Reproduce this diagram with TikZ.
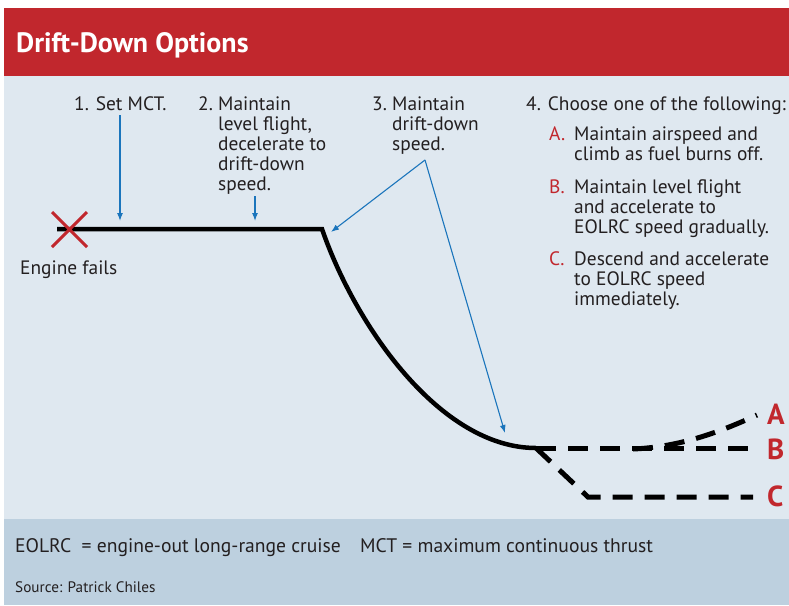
\documentclass[tikz,border=0pt]{standalone}
\usepackage{fontspec}
\setmainfont{PT Sans}
\usetikzlibrary{arrows.meta}
\definecolor{hdred}{HTML}{C1272D}
\definecolor{panel}{HTML}{DFE8F0}
\definecolor{foot}{HTML}{BDD0DF}
\definecolor{arrblue}{HTML}{1B75BC}
\definecolor{txtc}{HTML}{231F20}
\definecolor{optred}{HTML}{C1272D}
\newcommand\mylines[1]{\begin{tabular}[t]{@{}l@{}}#1\end{tabular}}
\begin{document}
\begin{tikzpicture}[x=1pt,y=-1pt,
  lbl/.style={inner sep=0pt, anchor=base west, font=\fontsize{19.4}{20}\selectfont, text=txtc},
  optlbl/.style={lbl, text=optred},
  bigletter/.style={inner sep=0pt, anchor=base west, font=\fontsize{29}{29}\bfseries\selectfont, text=optred},
  pointer/.style={draw=arrblue, line width=1.1pt, -{Latex[length=8pt,width=6pt]}},
  flight/.style={line width=4.5pt, line join=miter},
  option/.style={line width=5pt, dash pattern=on 20pt off 12pt}]
\useasboundingbox (0,0) rectangle (789,605);
\fill[white] (0,0) rectangle (789,605);
\fill[hdred] (4,8) rectangle (789,76);
\fill[panel] (4,76) rectangle (789,519);
\fill[foot] (4,519) rectangle (789,605);

% title
\node[inner sep=0pt, anchor=base west, font=\fontsize{28}{28}\bfseries\selectfont, text=white] (title) at (16,52) {Drift-Down Options};

% step texts
\node[lbl] (s1) at (74,110) {1. Set MCT.};
\node[lbl] (s2n) at (198,110) {2.};
\node[lbl] (s2) at (218,110) {\mylines{Maintain\\level flight,\\decelerate to\\drift-down\\speed.}};
\node[lbl] (s3n) at (372,110) {3.};
\node[lbl] (s3) at (392,110) {\mylines{Maintain\\drift-down\\speed.}};
\node[lbl] (s4) at (526,110) {4. Choose one of the following:};
\node[optlbl] (oAn) at (549,140) {A.};
\node[lbl] (oA) at (574,140) {\mylines{Maintain airspeed and\\climb as fuel burns off.}};
\node[optlbl] (oBn) at (549,193) {B.};
\node[lbl] (oB) at (574,193) {\mylines{Maintain level flight\\and accelerate to\\EOLRC speed gradually.}};
\node[optlbl] (oCn) at (549,265) {C.};
\node[lbl] (oC) at (574,265) {\mylines{Descend and accelerate\\to EOLRC speed\\immediately.}};
\node[lbl] (fail) at (20,274) {Engine fails};

% flight path
\coordinate (start) at (57,229);
\coordinate (corner) at (322,229);
\coordinate (bottom) at (536,448);
\draw[flight] (start) -- (corner) .. controls (355,325) and (440,448) .. (bottom);

% options
\coordinate (Bend) at (749,448);
\coordinate (Astart) at (633,449);
\coordinate (Aend) at (757,415);
\coordinate (Ckink) at (588,497);
\coordinate (Cend) at (753,497);
\draw[option] (bottom) -- (Bend);
\draw[option] (Astart) .. controls (680,447) and (720,432) .. (Aend);
\draw[option] (bottom) -- (Ckink) -- (Cend);
\node[bigletter] (LA) at (767,424) {A};
\node[bigletter] (LB) at (767,459) {B};
\node[bigletter] (LC) at (767,506) {C};

% engine failure X
\draw[hdred, line width=3pt] (52,212) -- (87,247) (52,247) -- (87,212);
\coordinate (X) at (69.5,229.5);

% pointers
\coordinate (p1s) at (120,115);
\coordinate (p1e) at (120,221);
\coordinate (p2s) at (255,196);
\coordinate (p2e) at (255,221);
\coordinate (p3s) at (425,160);
\coordinate (p3a) at (331,232);
\coordinate (p3b) at (505,433);
\draw[pointer] (p1s) -- (p1e);
\draw[pointer] (p2s) -- (p2e);
\draw[pointer] (p3s) -- (p3a);
\draw[pointer] (p3s) -- (p3b);

% footer
\node[lbl, font=\fontsize{19.6}{20}\selectfont] (fn1) at (15,552) {EOLRC\ \ = engine-out long-range cruise};
\node[lbl, font=\fontsize{19.6}{20}\selectfont] (fn2) at (360,552) {MCT = maximum continuous thrust};
\node[lbl, font=\fontsize{15.2}{16}\selectfont] (src) at (15,592) {Source: Patrick Chiles};
\end{tikzpicture}
\end{document}
